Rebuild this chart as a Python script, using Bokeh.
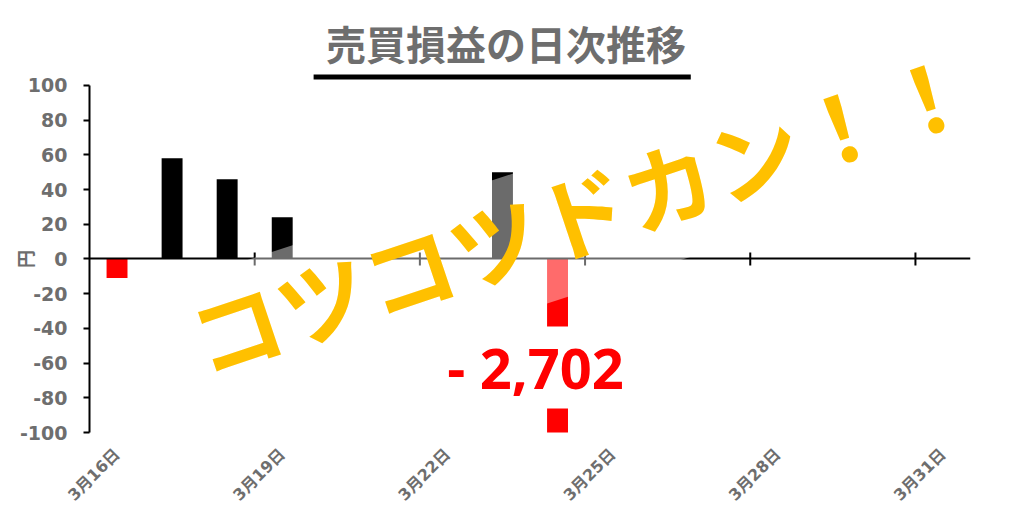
import math
from bokeh.plotting import figure
from bokeh.models import FixedTicker, Label, BoxAnnotation, Range1d, LinearAxis
from bokeh.embed import file_html
from bokeh.resources import INLINE

# ---- data ----
dates = ["3月16日", "3月17日", "3月18日", "3月19日", "3月20日", "3月21日",
         "3月22日", "3月23日", "3月24日"]
values = [-11, 58, 46, 24, 0, 0, 0, 50, -2702]
n_days = 16
tick_label_days = [0, 3, 6, 9, 12, 15]
tick_labels = ["3月16日", "3月19日", "3月22日", "3月25日", "3月28日", "3月31日"]
y_ticks = [-100, -80, -60, -40, -20, 0, 20, 40, 60, 80, 100]
y_tick_labels = ["-100", "-80", "-60", "-40", "-20", "0", "20", "40", "60", "80", "100"]
title_text = "売買損益の日次推移"
overlay_text = "コツコツドカン！！"
loss_text = "- 2,702"
unit_text = "円"

GRAY = "#6e6e6e"
TICK_FONT = "DejaVu Sans, Noto Sans CJK JP"

# frame spans from the canvas top; the axis itself is bounded to -100..100
p = figure(width=1016, height=520, output_backend="svg", toolbar_location=None,
           x_range=Range1d(0, n_days), y_range=Range1d(-100, 148.99),
           min_border_left=89, min_border_right=46, min_border_top=0,
           min_border_bottom=88)
p.outline_line_color = None
p.xgrid.visible = False
p.ygrid.visible = False

xs = [i + 0.5 for i in range(len(values))]
colors = ["black" if v >= 0 else "#ff0000" for v in values]
p.vbar(x=xs, top=values, bottom=0, width=0.38, fill_color=colors, line_color=None)

# zero line with cross ticks (glyphs, so the translucent band covers them)
p.hspan(y=[0], line_color="black", line_width=2)
p.scatter(x=tick_label_days[1:], y=[0] * (len(tick_label_days) - 1), marker="dash",
          angle=math.pi / 2, size=13, line_color="black", line_width=2)

# translucent white band behind the overlay text
p.rect(x=[9.01], y=[22.2], width=[830], height=[134], width_units="screen",
       height_units="screen", angle=math.radians(18), fill_color="white",
       fill_alpha=0.42, line_color=None)

# y axis
ya = p.yaxis[0]
ya.bounds = (-100, 100)
ya.ticker = FixedTicker(ticks=y_ticks)
ya.major_label_overrides = {t: s for t, s in zip(y_ticks, y_tick_labels)}
ya.axis_line_color = "black"
ya.axis_line_width = 2
ya.major_tick_line_color = "black"
ya.major_tick_line_width = 2
ya.major_tick_out = 6
ya.major_tick_in = 0
ya.minor_tick_line_color = None
ya.major_label_text_font = TICK_FONT
ya.major_label_text_font_style = "bold"
ya.major_label_text_font_size = "19px"
ya.major_label_text_color = GRAY
ya.major_label_standoff = 16

# unit label "円" placed at y = 0 via an outer axis
unit_axis = LinearAxis(ticker=FixedTicker(ticks=[0]),
                       major_label_overrides={0: unit_text},
                       axis_line_color=None, major_tick_line_color=None,
                       minor_tick_line_color=None, major_tick_out=0, major_tick_in=0,
                       major_label_orientation="vertical",
                       major_label_standoff=-22,
                       major_label_text_font="Noto Sans CJK JP",
                       major_label_text_font_style="bold",
                       major_label_text_font_size="18px",
                       major_label_text_color=GRAY)
p.add_layout(unit_axis, "left")

# x axis (labels only)
xa = p.xaxis[0]
xa.ticker = FixedTicker(ticks=[d + 0.5 for d in tick_label_days])
xa.major_label_overrides = {d + 0.5: t for d, t in zip(tick_label_days, tick_labels)}
xa.axis_line_color = None
xa.major_tick_line_color = None
xa.minor_tick_line_color = None
xa.major_label_orientation = math.pi / 4
xa.major_label_text_font = TICK_FONT
xa.major_label_text_font_style = "bold"
xa.major_label_text_font_size = "16px"
xa.major_label_text_color = GRAY
xa.major_label_standoff = 13

# title + underline
p.add_layout(Label(x=7.565, y=124.5, text=title_text, text_align="center",
                   text_baseline="middle", text_font="Noto Sans CJK JP",
                   text_font_style="bold", text_font_size="40px", text_color=GRAY))
p.add_layout(BoxAnnotation(left=4.07, right=10.92, bottom=103.4, top=106.3,
                           fill_color="black", fill_alpha=1.0, line_color=None))

# loss label
p.add_layout(Label(x=8.10, y=-62.5, text=loss_text, text_align="center",
                   text_baseline="middle", text_font="Open Sans",
                   text_font_style="bold", text_font_size="56px", text_color="#ff0000",
                   background_fill_color="white", background_fill_alpha=1.0,
                   padding=3))

# overlay text
p.add_layout(Label(x=8.92, y=28.3, text=overlay_text, angle=math.radians(18.5),
                   text_align="center", text_baseline="middle",
                   text_font="Noto Sans CJK JP", text_font_style="bold",
                   text_font_size="91px", text_color="#ffc000"))

open("out.html", "w").write(file_html(p, INLINE))
